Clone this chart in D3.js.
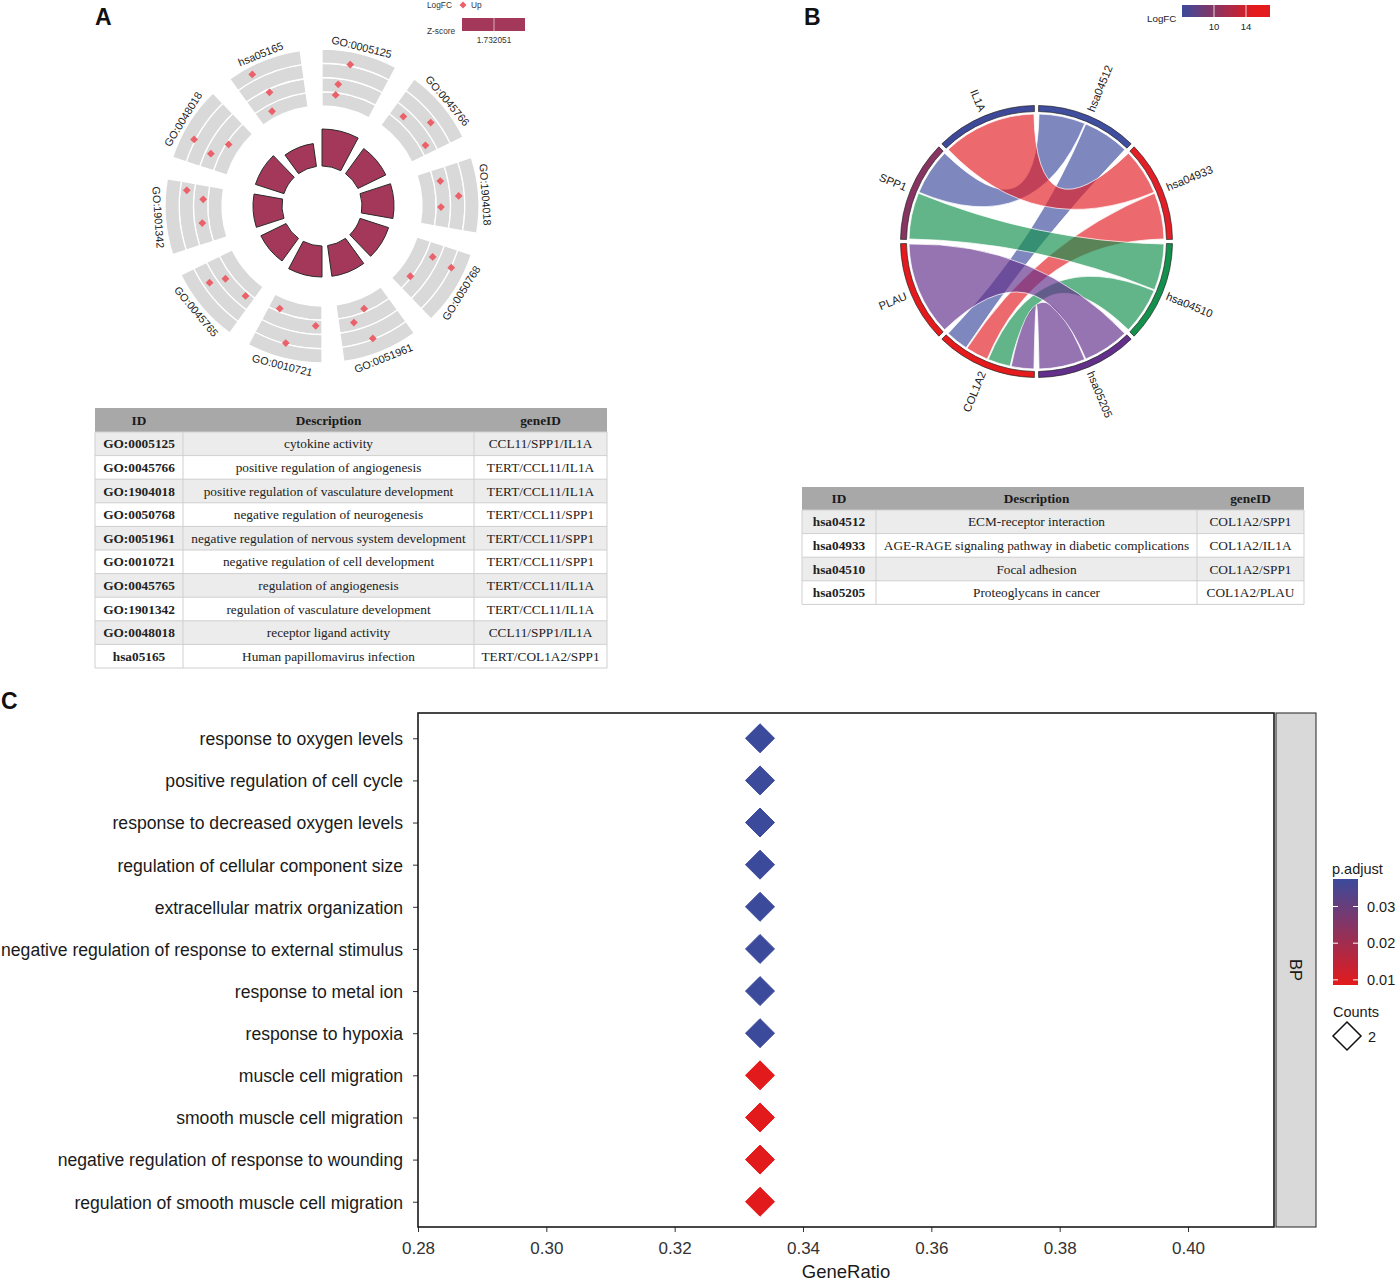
<!DOCTYPE html>
<html>
<head>
<meta charset="utf-8">
<script src="https://cdn.jsdelivr.net/npm/d3@7"></script>
<style>
  body { margin: 0; background: #fff; }
  svg text { font-family: "Liberation Sans", Arial, sans-serif; }
  svg text.serif { font-family: "Liberation Serif", "Times New Roman", serif; }
</style>
</head>
<body>
<svg id="fig" width="1396" height="1283"></svg>
<script>
// ---------------- data ----------------

// panel A : GO circle + table
var circleTerms = ["GO:0005125", "GO:0045766", "GO:1904018", "GO:0050768", "GO:0051961",
    "GO:0010721", "GO:0045765", "GO:1901342", "GO:0048018", "hsa05165"];
var circleDesc = ["cytokine activity", "positive regulation of angiogenesis",
    "positive regulation of vasculature development", "negative regulation of neurogenesis",
    "negative regulation of nervous system development", "negative regulation of cell development",
    "regulation of angiogenesis", "regulation of vasculature development",
    "receptor ligand activity", "Human papillomavirus infection"];
var circleGenes = ["CCL11/SPP1/IL1A", "TERT/CCL11/IL1A", "TERT/CCL11/IL1A", "TERT/CCL11/SPP1",
    "TERT/CCL11/SPP1", "TERT/CCL11/SPP1", "TERT/CCL11/IL1A", "TERT/CCL11/IL1A",
    "CCL11/SPP1/IL1A", "TERT/COL1A2/SPP1"];
// inner bar height (-log10 adj. p, estimated)
var barValue = [3.7, 3.1, 3.2, 3.0, 3.1, 3.1, 2.8, 2.9, 3.0, 2.3];
// logFC of the three genes drawn in every outer sector
var pointLogFC = [[13.3, 8.8, 6.5], [8.4, 11.8, 8.2], [8.4, 11.8, 8.0], [8.6, 13.1, 6.7],
    [6.3, 8.4, 12.8], [6.3, 8.2, 12.8], [11.6, 8.4, 7.8], [11.6, 8.0, 8.4],
    [13.3, 8.8, 6.5], [14.3, 9.3, 5.5]];
// position of the points inside a sector (degrees from sector start)
var pointOffset = [[11.3, 7.6, 7.0], [6.3, 16.5, 23.6], [6.1, 13.8, 18.5], [6.7, 7.5, 20.5],
    [13.7, 20.7, 15.0], [22.4, 3.0, 14.8], [19.7, 17.0, 4.4], [24.6, 21.2, 9.9],
    [9.5, 7.2, 15.4], [8.1, 11.2, 8.2]];
var zScore = 1.732051;

// panel B : KEGG chord + table
var keggTerms = ["hsa04512", "hsa04933", "hsa04510", "hsa05205"];
var keggDesc = ["ECM-receptor interaction", "AGE-RAGE signaling pathway in diabetic complications",
    "Focal adhesion", "Proteoglycans in cancer"];
var keggGenes = ["COL1A2/SPP1", "COL1A2/IL1A", "COL1A2/SPP1", "COL1A2/PLAU"];
var chordGenes = ["COL1A2", "PLAU", "SPP1", "IL1A"];
var chordGeneLogFC = [15.5, 16.0, 10.1, 6.2];
var logFCTicks = [10, 14];

// panel C : BP dot plot
var bpTerms = ["response to oxygen levels", "positive regulation of cell cycle",
    "response to decreased oxygen levels", "regulation of cellular component size",
    "extracellular matrix organization", "negative regulation of response to external stimulus",
    "response to metal ion", "response to hypoxia", "muscle cell migration",
    "smooth muscle cell migration", "negative regulation of response to wounding",
    "regulation of smooth muscle cell migration"];
var bpRatio = [0.3333, 0.3333, 0.3333, 0.3333, 0.3333, 0.3333, 0.3333, 0.3333, 0.3333, 0.3333, 0.3333, 0.3333];
var bpPadj = [0.0374, 0.0374, 0.0374, 0.0374, 0.0374, 0.0374, 0.0374, 0.0374, 0.0087, 0.0087, 0.0087, 0.0087];
var bpCounts = [2, 2, 2, 2, 2, 2, 2, 2, 2, 2, 2, 2];
var ratioTicks = [0.28, 0.30, 0.32, 0.34, 0.36, 0.38, 0.40];
var padjTicks = [0.01, 0.02, 0.03];

// ---------------- drawing ----------------
var svg = d3.select("#fig");
var defs = svg.append("defs");
var rad = Math.PI / 180;

function panelLetter(x, y, s) {
    svg.append("text").attr("x", x).attr("y", y)
        .attr("font-size", 23).attr("font-weight", "bold").attr("fill", "#111").text(s);
}
panelLetter(95, 25, "A");
panelLetter(804, 25, "B");
panelLetter(1, 709, "C");

function diamond(sel, x, y, half) {
    return sel.append("path")
        .attr("d", "M" + x + "," + (y - half) + "L" + (x + half) + "," + y +
            "L" + x + "," + (y + half) + "L" + (x - half) + "," + y + "Z");
}

//  GO circle
var drawGoCircle = function () {
    var g = svg.append("g").attr("transform", "translate(322,206)");
    var secStep = 36, secSpan = 28;
    var rScale = d3.scaleLinear().domain([4, 16]).range([100, 157]);
    var barScale = d3.scaleLinear().domain([0, 4]).range([40, 80]);
    var bands = [4, 7, 10, 13];
    var arc = d3.arc();

    circleTerms.forEach(function (term, i) {
        var a0 = i * secStep, a1 = a0 + secSpan;

        bands.forEach(function (b) {
            g.append("path")
                .attr("d", arc({ innerRadius: rScale(b), outerRadius: rScale(b + 3), startAngle: a0 * rad, endAngle: a1 * rad }))
                .attr("fill", "#d9d9d9").attr("stroke", "#fff").attr("stroke-width", 1.3);
        });

        pointLogFC[i].forEach(function (v, j) {
            var a = (a0 + pointOffset[i][j]) * rad, r = rScale(v);
            diamond(g, r * Math.sin(a), -r * Math.cos(a), 3.9).attr("fill", "#ea6169");
        });

        g.append("path")
            .attr("d", arc({ innerRadius: 40, outerRadius: barScale(barValue[i]), startAngle: a0 * rad, endAngle: a1 * rad }))
            .attr("fill", "#a3385a").attr("stroke", "#2a2a2a").attr("stroke-width", 1);

        // tangential label, flipped on the lower half
        var mid = a0 + secSpan / 2, lr = 164;
        var rot = (mid > 90 && mid <= 270) ? mid - 180 : mid;
        g.append("text")
            .attr("transform", "translate(" + (lr * Math.sin(mid * rad)) + "," + (-lr * Math.cos(mid * rad)) + ") rotate(" + rot + ")")
            .attr("text-anchor", "middle").attr("dominant-baseline", "central")
            .attr("font-size", 10.8).attr("fill", "#222").text(term);
    });

    // legend
    var lg = svg.append("g").attr("font-size", 8.3).attr("fill", "#333");
    lg.append("text").attr("x", 427).attr("y", 8).text("LogFC");
    diamond(lg, 463, 5, 3.5).attr("fill", "#ea6169");
    lg.append("text").attr("x", 471).attr("y", 8).text("Up");
    lg.append("text").attr("x", 427).attr("y", 34).text("Z-score");
    lg.append("rect").attr("x", 462).attr("y", 18).attr("width", 63).attr("height", 13).attr("fill", "#a3385a");
    lg.append("line").attr("x1", 494).attr("x2", 494).attr("y1", 18).attr("y2", 31).attr("stroke", "#fff").attr("stroke-width", 0.6);
    lg.append("text").attr("x", 494).attr("y", 43).attr("text-anchor", "middle").text(zScore.toString());
};

//  tables
var drawTable = function (x0, y0, widths, headH, rowH, cols) {
    var g = svg.append("g");
    var headers = ["ID", "Description", "geneID"];
    var total = d3.sum(widths);
    var xs = [x0];
    widths.forEach(function (w, k) { xs.push(xs[k] + w); });
    var n = cols[0].length;

    g.append("rect").attr("x", x0).attr("y", y0).attr("width", total).attr("height", headH).attr("fill", "#a8a8a8");
    for (var r = 0; r < n; r++) {
        g.append("rect").attr("x", x0).attr("y", y0 + headH + r * rowH).attr("width", total).attr("height", rowH)
            .attr("fill", r % 2 === 0 ? "#ececec" : "#ffffff");
    }
    // cell lines
    for (var k = 0; k <= n; k++) {
        var yy = y0 + headH + k * rowH;
        g.append("line").attr("x1", x0).attr("x2", x0 + total).attr("y1", yy).attr("y2", yy)
            .attr("stroke", "#cfcfcf").attr("stroke-width", 1);
    }
    xs.forEach(function (xx) {
        g.append("line").attr("x1", xx).attr("x2", xx).attr("y1", y0 + headH).attr("y2", y0 + headH + n * rowH)
            .attr("stroke", "#cfcfcf").attr("stroke-width", 1);
    });

    headers.forEach(function (h, c) {
        g.append("text").attr("class", "serif")
            .attr("x", (xs[c] + xs[c + 1]) / 2).attr("y", y0 + headH / 2 + 4.6)
            .attr("text-anchor", "middle").attr("font-size", 13.3).attr("font-weight", "bold").attr("fill", "#1a1a1a").text(h);
    });
    cols.forEach(function (col, c) {
        col.forEach(function (v, r) {
            g.append("text").attr("class", "serif")
                .attr("x", (xs[c] + xs[c + 1]) / 2).attr("y", y0 + headH + r * rowH + rowH / 2 + 4.6)
                .attr("text-anchor", "middle").attr("font-size", 13.3)
                .attr("font-weight", c === 0 ? "bold" : "normal").attr("fill", "#222").text(v);
        });
    });
};

//  KEGG chord
var drawChord = function () {
    var cx = 1036.5, cy = 241.5;
    var g = svg.append("g").attr("transform", "translate(" + cx + "," + cy + ")");
    var termColor = ["#3f4e9e", "#e21f26", "#14904d", "#62308a"];
    var fcColor = d3.scaleLinear().domain([6, 15]).range(["#3b4a9c", "#e41a1c"]).clamp(true);
    var sectors = keggTerms.concat(chordGenes);
    var pad = 0.9, span = 360 / sectors.length;

    var secAngle = sectors.map(function (s, k) { return [k * span + pad, (k + 1) * span - pad]; });

    // split term sectors over their genes and gene sectors over their terms
    var links = [];
    var termSlots = {}, geneSlots = {};
    keggTerms.forEach(function (t, ti) {
        var gs = keggGenes[ti].split("/").map(function (s) { return chordGenes.indexOf(s); });
        gs.sort(function (a, b) { return b - a; });
        var a = secAngle[ti], w = (a[1] - a[0]) / gs.length;
        gs.forEach(function (gi, k) {
            termSlots[ti + "_" + gi] = [a[0] + k * w, a[0] + (k + 1) * w];
        });
    });
    chordGenes.forEach(function (gname, gi) {
        var ts = [];
        keggTerms.forEach(function (t, ti) { if (keggGenes[ti].split("/").indexOf(gname) >= 0) ts.push(ti); });
        ts.sort(function (a, b) { return b - a; });
        var a = secAngle[keggTerms.length + gi], w = (a[1] - a[0]) / ts.length;
        ts.forEach(function (ti, k) {
            geneSlots[ti + "_" + gi] = [a[0] + k * w, a[0] + (k + 1) * w];
            links.push({ term: ti, gene: gi });
        });
    });
    links.sort(function (a, b) { return a.term - b.term; });

    var ribbon = d3.ribbon().radius(127.5);
    var inset = 0.25;
    links.forEach(function (l) {
        var s = termSlots[l.term + "_" + l.gene], t = geneSlots[l.term + "_" + l.gene];
        g.append("path")
            .attr("d", ribbon({
                source: { startAngle: (s[0] + inset) * rad, endAngle: (s[1] - inset) * rad },
                target: { startAngle: (t[0] + inset) * rad, endAngle: (t[1] - inset) * rad }
            }))
            .attr("fill", termColor[l.term]).attr("fill-opacity", 0.67)
            .attr("stroke", "#fff").attr("stroke-width", 0.8).attr("stroke-opacity", 0.9);
    });

    var arc = d3.arc().innerRadius(130).outerRadius(136);
    sectors.forEach(function (s, k) {
        var col = k < keggTerms.length ? termColor[k] : fcColor(chordGeneLogFC[k - keggTerms.length]);
        g.append("path")
            .attr("d", arc({ startAngle: secAngle[k][0] * rad, endAngle: secAngle[k][1] * rad }))
            .attr("fill", col).attr("stroke", "#222").attr("stroke-width", 0.7);

        var mid = (secAngle[k][0] + secAngle[k][1]) / 2, lr = 141;
        var right = mid < 180;
        g.append("text")
            .attr("transform", "translate(" + (lr * Math.sin(mid * rad)) + "," + (-lr * Math.cos(mid * rad)) + ") rotate(" + (right ? mid - 90 : mid - 270) + ")")
            .attr("text-anchor", right ? "start" : "end").attr("dominant-baseline", "central")
            .attr("font-size", 11.2).attr("fill", "#222").text(s);
    });

    // logFC legend
    var lx = d3.scaleLinear().domain([6, 17]).range([1182, 1270]);
    var grad = defs.append("linearGradient").attr("id", "fcGrad");
    d3.range(6, 17.01, 0.5).forEach(function (v) {
        grad.append("stop").attr("offset", ((v - 6) / 11 * 100) + "%").attr("stop-color", fcColor(v));
    });
    svg.append("rect").attr("x", lx(6)).attr("y", 5).attr("width", lx(17) - lx(6)).attr("height", 12).attr("fill", "url(#fcGrad)");
    logFCTicks.forEach(function (v) {
        svg.append("line").attr("x1", lx(v)).attr("x2", lx(v)).attr("y1", 5).attr("y2", 17).attr("stroke", "#fff").attr("stroke-width", 0.8);
        svg.append("text").attr("x", lx(v)).attr("y", 30).attr("text-anchor", "middle").attr("font-size", 9.5).attr("fill", "#222").text(v);
    });
    svg.append("text").attr("x", 1147).attr("y", 22).attr("font-size", 9.8).attr("fill", "#222").text("LogFC");
};

//  BP dot plot
var drawDotPlot = function () {
    var left = 418, right = 1274, top = 713, bottom = 1227;
    var xScale = d3.scaleLinear().domain([0.28, 0.4134]).range([left, right]);
    var yScale = d3.scalePoint().domain(bpTerms).range([top, bottom]).padding(0.6);
    var colScale = d3.scaleLinear().domain([0.0086, 0.0375]).range(["#e41a1c", "#3b4a9c"]);
    var sizeScale = d3.scaleSqrt().domain([0, 2]).range([0, 14.5]);

    var xAxis = d3.axisBottom(xScale).tickValues(ratioTicks).tickFormat(d3.format(".2f")).tickSize(5).tickPadding(10);
    var yAxis = d3.axisLeft(yScale).tickSize(5).tickPadding(10);

    var gx = svg.append("g").attr("transform", "translate(0," + bottom + ")").call(xAxis);
    gx.select(".domain").remove();
    gx.selectAll("text").attr("font-size", 17).attr("fill", "#333").attr("font-family", "Liberation Sans, Arial, sans-serif");
    gx.selectAll("line").attr("stroke", "#333");

    var gy = svg.append("g").attr("transform", "translate(" + left + ",0)").call(yAxis);
    gy.select(".domain").remove();
    gy.selectAll("text").attr("font-size", 17.6).attr("fill", "#1a1a1a").attr("dy", "0.36em")
        .attr("font-family", "Liberation Sans, Arial, sans-serif");
    gy.selectAll("line").attr("stroke", "#333");

    svg.selectAll(".bp-point")
        .data(bpTerms)
        .enter()
        .append("path")
        .attr("class", "bp-point")
        .attr("d", function (d, i) {
            var x = xScale(bpRatio[i]), y = yScale(d), h = sizeScale(bpCounts[i]);
            return "M" + x + "," + (y - h) + "L" + (x + h) + "," + y + "L" + x + "," + (y + h) + "L" + (x - h) + "," + y + "Z";
        })
        .attr("fill", function (d, i) { return colScale(bpPadj[i]); })
        .attr("stroke", function (d, i) { return colScale(bpPadj[i]); })
        .attr("stroke-width", 1);

    svg.append("rect").attr("x", left).attr("y", top).attr("width", right - left).attr("height", bottom - top)
        .attr("fill", "none").attr("stroke", "#1a1a1a").attr("stroke-width", 1.6);

    // facet strip
    svg.append("rect").attr("x", 1276).attr("y", top).attr("width", 40).attr("height", bottom - top)
        .attr("fill", "#d9d9d9").attr("stroke", "#333").attr("stroke-width", 1.1);
    svg.append("text").attr("transform", "translate(1290," + ((top + bottom) / 2) + ") rotate(90)")
        .attr("text-anchor", "middle").attr("font-size", 16.5).attr("fill", "#1a1a1a").text("BP");

    svg.append("text").attr("x", (left + right) / 2).attr("y", 1278).attr("text-anchor", "middle")
        .attr("font-size", 18.5).attr("fill", "#1a1a1a").text("GeneRatio");

    // legends
    var ly = d3.scaleLinear().domain([0.0086, 0.0375]).range([985, 879]);
    var grad = defs.append("linearGradient").attr("id", "pGrad")
        .attr("x1", 0).attr("x2", 0).attr("y1", 1).attr("y2", 0);
    d3.range(0, 1.001, 0.1).forEach(function (f) {
        grad.append("stop").attr("offset", (f * 100) + "%").attr("stop-color", colScale(0.0086 + f * (0.0375 - 0.0086)));
    });
    svg.append("text").attr("x", 1332).attr("y", 874).attr("font-size", 14.5).attr("fill", "#1a1a1a").text("p.adjust");
    svg.append("rect").attr("x", 1333).attr("y", 879).attr("width", 25).attr("height", 106).attr("fill", "url(#pGrad)");
    padjTicks.forEach(function (v) {
        [1333, 1353].forEach(function (x) {
            svg.append("line").attr("x1", x).attr("x2", x + 5).attr("y1", ly(v)).attr("y2", ly(v)).attr("stroke", "#fff").attr("stroke-width", 1);
        });
        svg.append("text").attr("x", 1367).attr("y", ly(v) + 5).attr("font-size", 14.5).attr("fill", "#1a1a1a").text(v.toFixed(2));
    });
    svg.append("text").attr("x", 1333).attr("y", 1017).attr("font-size", 14.5).attr("fill", "#1a1a1a").text("Counts");
    diamond(svg, 1347, 1036, 14).attr("fill", "#fff").attr("stroke", "#111").attr("stroke-width", 1.5);
    svg.append("text").attr("x", 1368).attr("y", 1042).attr("font-size", 14.5).attr("fill", "#1a1a1a").text("2");
};

drawGoCircle();
drawTable(95, 408, [88, 291, 133], 24, 23.6, [circleTerms, circleDesc, circleGenes]);
drawChord();
drawTable(802, 487, [74, 321, 107], 23, 23.6, [keggTerms, keggDesc, keggGenes]);
drawDotPlot();
</script>
</body>
</html>
